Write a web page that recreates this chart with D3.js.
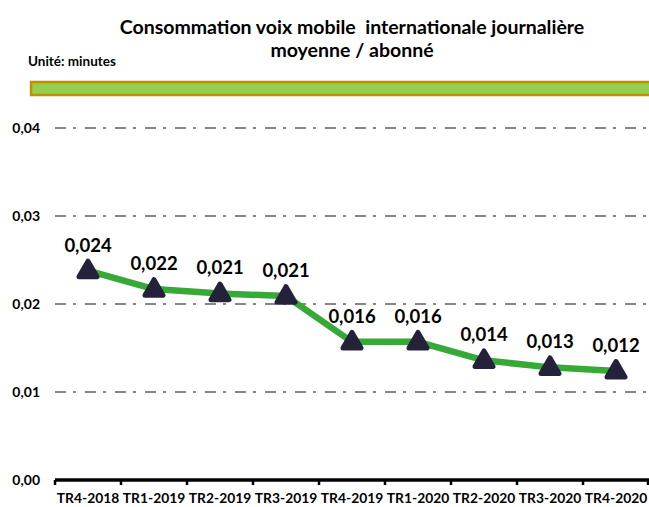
<!DOCTYPE html>
<html>
<head>
<meta charset="utf-8">
<script src="https://d3js.org/d3.v7.min.js"></script>
<style>
  body { margin:0; background:#fff; }
  text { font-family: Lato, "Open Sans", sans-serif; font-weight:bold; }
</style>
</head>
<body>
<svg width="649" height="507"></svg>
<script>
// data
var quarters = ["TR4-2018","TR1-2019","TR2-2019","TR3-2019","TR4-2019","TR1-2020","TR2-2020","TR3-2020","TR4-2020"];
var minutes = [0.0238, 0.0217, 0.0212, 0.0209, 0.0157, 0.0157, 0.0136, 0.0128, 0.0124];
var yTicks = [0, 0.01, 0.02, 0.03, 0.04];

var svg = d3.select("svg");
var margin = {top:128, left:55, right:0, bottom:27};
var width = 649, height = 507;

var x = d3.scaleBand()
  .domain(quarters)
  .range([margin.left, width - margin.right]);
var y = d3.scaleLinear()
  .domain([0, 0.04])
  .range([height - margin.bottom, margin.top]);

var fmt = function(v, n){ return d3.format("." + n + "f")(v).replace(".", ","); };

// title
svg.append("text")
  .attr("x", 352).attr("y", 34)
  .attr("text-anchor","middle")
  .attr("font-size", 19.5)
  .style("white-space","pre")
  .text("Consommation voix mobile  internationale journalière");
svg.append("text")
  .attr("x", 352).attr("y", 57)
  .attr("text-anchor","middle")
  .attr("font-size", 19.5)
  .text("moyenne / abonné");
svg.append("text")
  .attr("x", 28).attr("y", 66)
  .attr("font-size", 13.5)
  .text("Unité: minutes");

// green band
svg.append("rect")
  .attr("x", 31).attr("y", 82)
  .attr("width", 630).attr("height", 13)
  .attr("fill", "#92D050")
  .attr("stroke", "#BF9000")
  .attr("stroke-width", 2.5);

// grid lines
svg.append("g")
  .selectAll("line")
  .data(yTicks.filter(function(d){ return d > 0; }))
  .enter().append("line")
  .attr("x1", margin.left).attr("x2", width)
  .attr("y1", function(d){ return y(d); })
  .attr("y2", function(d){ return y(d); })
  .attr("stroke", "#878787")
  .attr("stroke-width", 2.2)
  .attr("stroke-dasharray", "11,7,3,9");

// y labels
svg.append("g")
  .selectAll("text")
  .data(yTicks)
  .enter().append("text")
  .attr("x", 40)
  .attr("y", function(d){ return y(d) + 5; })
  .attr("text-anchor","end")
  .attr("font-size", 14)
  .text(function(d){ return fmt(d, 2); });

// x axis
var xAxis = d3.axisBottom(x).tickSize(0).tickPadding(13);
var gx = svg.append("g")
  .attr("transform", "translate(0," + y(0) + ")")
  .call(xAxis);
gx.select(".domain").remove();
gx.selectAll("text")
  .attr("font-size", 13.8)
  .attr("font-family", "Lato, sans-serif")
  .attr("font-weight", "bold")
  .attr("fill", "#000");
svg.append("line")
  .attr("x1", margin.left).attr("x2", width)
  .attr("y1", y(0)).attr("y2", y(0))
  .attr("stroke", "#000").attr("stroke-width", 3.5);
var edges = quarters.map(function(q){ return x(q); }).concat([width - 1]);
svg.append("g")
  .selectAll("line")
  .data(edges)
  .enter().append("line")
  .attr("x1", function(d){ return d; }).attr("x2", function(d){ return d; })
  .attr("y1", y(0)).attr("y2", y(0) + 5)
  .attr("stroke", "#000").attr("stroke-width", 2.5);

// line
var line = d3.line()
  .x(function(d, i){ return x(quarters[i]) + x.bandwidth()/2; })
  .y(function(d){ return y(d); });
svg.append("path")
  .datum(minutes)
  .attr("d", line)
  .attr("fill", "none")
  .attr("stroke", "#36A936")
  .attr("stroke-width", 6.5)
  .attr("stroke-linejoin", "round");

// markers
var tri = d3.symbol().type(d3.symbolTriangle).size(140);
svg.append("g")
  .selectAll("path")
  .data(minutes)
  .enter().append("path")
  .attr("d", tri)
  .attr("transform", function(d, i){
    return "translate(" + (x(quarters[i]) + x.bandwidth()/2) + "," + (y(d) + 1) + ")";
  })
  .attr("fill", "#23223A")
  .attr("stroke", "#23223A")
  .attr("stroke-width", 5)
  .attr("stroke-linejoin", "round");

// value labels
svg.append("g")
  .selectAll("text")
  .data(minutes)
  .enter().append("text")
  .attr("x", function(d, i){ return x(quarters[i]) + x.bandwidth()/2; })
  .attr("y", function(d){ return y(d) - 19; })
  .attr("text-anchor","middle")
  .attr("font-size", 18.5)
  .text(function(d){ return fmt(d, 3); });
</script>
</body>
</html>
